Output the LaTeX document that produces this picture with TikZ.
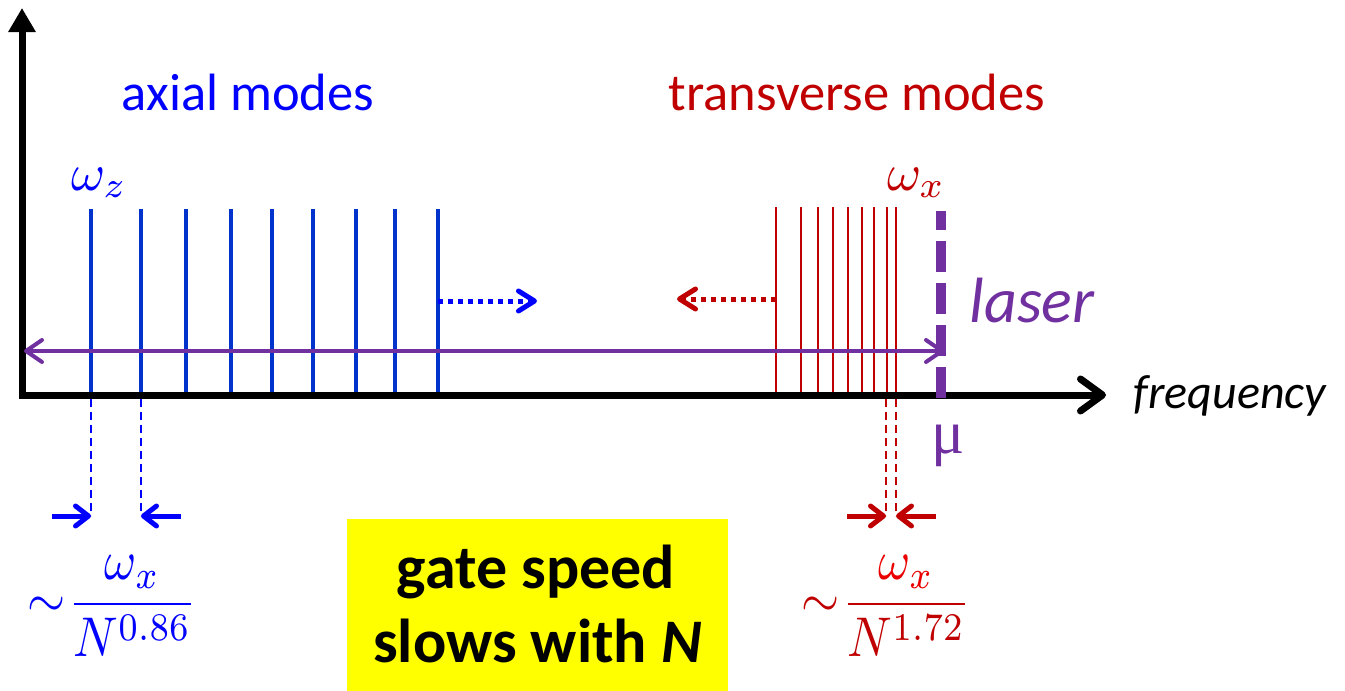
\documentclass[tikz,border=0pt]{standalone}
\usepackage[no-math]{fontspec}
\setmainfont{Carlito}
\newfontfamily\serifmu{Liberation Serif}
\usetikzlibrary{arrows.meta}
\definecolor{modeblue}{RGB}{0,51,204}
\definecolor{textblue}{RGB}{0,0,255}
\definecolor{modered}{RGB}{192,0,0}
\definecolor{brightred}{RGB}{235,0,0}
\definecolor{laserpurple}{RGB}{112,48,160}
\definecolor{boxyellow}{RGB}{255,255,0}
\tikzset{
  axisline/.style={line width=7pt, black, line join=miter},
  bluemode/.style={modeblue, line width=4pt},
  redmode/.style={modered, line width=2.2pt},
  chev/.style={-{Straight Barb[round,length=16pt,width=20pt]}},
  dotarrow/.style={line width=5pt, dash pattern=on 5pt off 5pt, chev},
  guide/.style={line width=2.5pt, dash pattern=on 8pt off 5pt},
  pointer/.style={line width=5pt, -{Straight Barb[round,length=13pt,width=20pt]}},
  lbl/.style={inner sep=0pt, anchor=base},
  mathlbl/.style={inner sep=0pt, font=\normalsize, scale=5.2},
  fraclbl/.style={inner sep=0pt, font=\normalsize, xscale=4.9, yscale=5.6},
}
\begin{document}
\begin{tikzpicture}[x=1pt,y=-1pt]
\useasboundingbox (0,0) rectangle (1345,691);

% axes
\coordinate (ytop) at (22,8);
\coordinate (O) at (22,395);
\coordinate (xend) at (1106,395);
\draw[axisline, {Triangle[length=24pt,width=26pt]}-{Straight Barb[round,length=22pt,width=32pt]}] (ytop) -- (O) -- (xend);

% axial mode lines
\foreach \x in {91,141,186,231,272,313,356,395,438}
  \draw[bluemode] (\x,209) -- (\x,392);

% transverse mode lines
\foreach \x in {776,801,818,833,848,862,874,887,896}
  \draw[redmode] (\x,207) -- (\x,392);

% laser line
\coordinate (lbot) at (941,398);
\coordinate (ltop) at (941,211);
\draw[laserpurple, line width=10pt, dash pattern=on 31pt off 11pt] (lbot) -- (ltop);

% laser detuning double arrow
\coordinate (dl) at (24,351);
\coordinate (dr) at (944,351);
\draw[laserpurple, line width=4pt, {Straight Barb[round,length=16pt,width=22pt]}-{Straight Barb[round,length=16pt,width=22pt]}] (dl) -- (dr);

% dotted arrows
\coordinate (bs) at (438,301);
\coordinate (be) at (537,301);
\draw[textblue, dotarrow] (bs) -- (be);
\coordinate (rs) at (776,299);
\coordinate (re) at (677,299);
\draw[modered, dotarrow] (rs) -- (re);

% blue spacing guides
\coordinate (bg1t) at (91,399);
\coordinate (bg1b) at (91,516);
\coordinate (bg2t) at (141,399);
\coordinate (bg2b) at (141,516);
\draw[textblue, guide] (bg1t) -- (bg1b);
\draw[textblue, guide] (bg2t) -- (bg2b);
\coordinate (ba1) at (52,516);
\coordinate (ba2) at (181,516);
\draw[textblue, pointer] (ba1) -- (bg1b);
\draw[textblue, pointer] (ba2) -- (bg2b);

% red spacing guides
\coordinate (rg1t) at (886,399);
\coordinate (rg1b) at (886,516);
\coordinate (rg2t) at (896,399);
\coordinate (rg2b) at (896,516);
\draw[modered, guide] (rg1t) -- (rg1b);
\draw[modered, guide] (rg2t) -- (rg2b);
\coordinate (ra1) at (847,516);
\coordinate (ra2) at (936,516);
\draw[modered, pointer] (ra1) -- (rg1b);
\draw[modered, pointer] (ra2) -- (rg2b);

% labels
\node[lbl, text=textblue, font=\fontsize{52.5}{60}\selectfont] (axial) at (248,110) {axial modes};
\node[lbl, text=modered, font=\fontsize{52.5}{60}\selectfont] (trans) at (857,110) {transverse modes};
\node[mathlbl, anchor=base west, text=textblue] (wz) at (70,190) {$\omega_z$};
\node[mathlbl, anchor=base west, text=modered] (wx) at (886,190) {$\omega_x$};
\node[lbl, text=laserpurple, font=\fontsize{64}{72}\selectfont\itshape] (laser) at (1032,322) {laser};
\node[lbl, text=black, font=\fontsize{48}{56}\selectfont\itshape] (freq) at (1230,408) {frequency};
\node[lbl, text=laserpurple, font=\fontsize{62}{70}\selectfont\serifmu] (mu) at (948,453) {μ};

% formulas
\node[fraclbl, text=textblue] (fblue) at (112,606) {$\mathord{\sim}\mkern1mu\displaystyle\frac{\omega_x}{N^{0.86}}$};
\node[fraclbl, text=modered] (fred) at (886,606) {$\mathord{\sim}\mkern1mu\displaystyle\frac{\textcolor{brightred}{\omega_x}}{N^{1.72}}$};

% yellow box
\node[fill=boxyellow, minimum width=381pt, minimum height=172pt, inner sep=0pt] (box) at (537.5,605) {};
\node[lbl, font=\fontsize{62}{70}\selectfont\bfseries] (g1) at (536,588) {gate speed};
\node[lbl, font=\fontsize{62}{70}\selectfont\bfseries] (g2) at (537.5,662) {slows with \textit{N}};
\end{tikzpicture}
\end{document}
